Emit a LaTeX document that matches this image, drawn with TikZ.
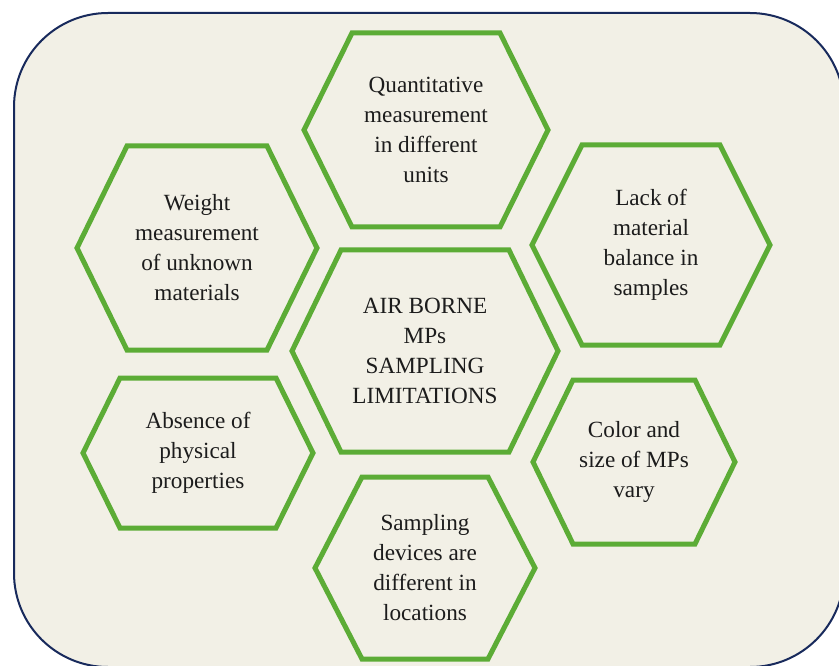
\documentclass[tikz,border=0pt]{standalone}
\usepackage{fontspec}
\newfontfamily\timesfont{Liberation Serif}
\definecolor{hexgreen}{RGB}{92,172,54}
\definecolor{panelfill}{RGB}{242,240,230}
\definecolor{navyline}{RGB}{24,42,92}
\definecolor{txt}{RGB}{28,28,28}
\newcommand{\hexbox}[7]{%
  % #1 name, #2 cx, #3 cy, #4 half width, #5 inset, #6 half height, #7 text
  \draw[hexline] ({#2-#4},#3) -- ({#2-#4+#5},{#3-#6}) -- ({#2+#4-#5},{#3-#6})
    -- ({#2+#4},#3) -- ({#2+#4-#5},{#3+#6}) -- ({#2-#4+#5},{#3+#6}) -- cycle;
  \node[hextext] (#1) at (#2,#3) {#7};
}
\begin{document}
\begin{tikzpicture}[x=1pt,y=-1pt,
  hexline/.style={draw=hexgreen,line width=5pt,line join=miter},
  hextext/.style={text=txt,align=center,font=\timesfont\fontsize{23.2}{30}\selectfont,inner sep=0pt},
  panel/.style={draw=navyline,line width=2pt,fill=panelfill,rounded corners=94pt}]
\useasboundingbox (0,0) rectangle (839,666);
\fill[white] (0,0) rectangle (839,666);
\begin{scope}
\clip (0,0) rectangle (839,666);
\path[panel] (14,13) rectangle (844,667);
\end{scope}
\hexbox{quant}{426}{130}{122}{48}{97}{Quantitative\\measurement\\in different\\units}
\hexbox{weight}{197}{248}{120}{50}{102}{Weight\\measurement\\of unknown\\materials}
\hexbox{center}{425}{351}{133}{49}{101}{AIR BORNE\\MPs\\SAMPLING\\LIMITATIONS}
\hexbox{lack}{651}{245}{119}{50}{100}{Lack of\\material\\balance in\\samples}
\hexbox{color}{634}{462}{101}{40}{82}{Color and\\size of MPs\\vary}
\hexbox{absence}{198}{453}{115}{37}{75}{Absence of\\physical\\properties}
\hexbox{sampling}{425}{568}{110}{47}{91}{Sampling\\devices are\\different in\\locations}
\end{tikzpicture}
\end{document}
